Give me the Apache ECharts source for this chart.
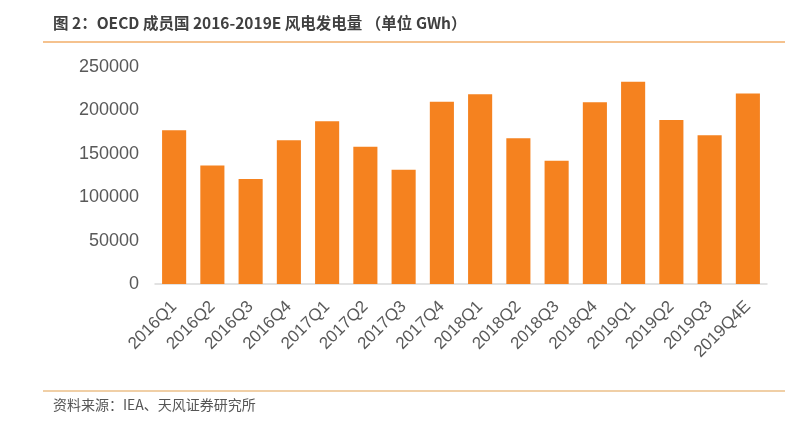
<!DOCTYPE html>
<html>
<head>
<meta charset="utf-8">
<script src="https://cdn.jsdelivr.net/npm/echarts@6/dist/echarts.min.js"></script>
<style>
html,body{margin:0;padding:0;background:#fff;}
#c{width:800px;height:439px;}
</style>
</head>
<body>
<div id="c"></div>
<script>
var titleText = '图 2：OECD 成员国 2016-2019E 风电发电量 （单位 GWh）';
var sourceText = '资料来源：IEA、天风证券研究所';
var categories = ['2016Q1','2016Q2','2016Q3','2016Q4','2017Q1','2017Q2','2017Q3','2017Q4','2018Q1','2018Q2','2018Q3','2018Q4','2019Q1','2019Q2','2019Q3','2019Q4E'];
var values = [177000,136500,121000,165500,187500,158000,131500,210000,218500,168000,142000,209500,233000,189000,171500,219500];

var chart = echarts.init(document.getElementById('c'));
chart.setOption({
  animation: false,
  backgroundColor: '#fff',
  graphic: [
    {type:'text', left:53, top:15, style:{text:titleText, fill:'#404040', font:'bold 15.5px "Noto Sans CJK SC"'}},
    {type:'line', shape:{x1:43,y1:42,x2:785,y2:42}, style:{stroke:'#f5c28e', lineWidth:2}},
    {type:'line', shape:{x1:43,y1:391,x2:785,y2:391}, style:{stroke:'#f0cfa6', lineWidth:2}},
    {type:'text', left:53, top:398, style:{text:sourceText, fill:'#555', font:'14px "Noto Sans CJK SC"'}}
  ],
  grid: {left:155, right:33, top:67, bottom:155, containLabel:false},
  xAxis: {
    type:'category', data:categories,
    axisLine:{lineStyle:{color:'#d9d9d9', width:1.5}},
    axisTick:{show:false},
    axisLabel:{rotate:45, color:'#595959', fontSize:17, fontFamily:'Liberation Sans', interval:0, margin:20}
  },
  yAxis: {
    type:'value', min:0, max:250000, interval:50000,
    axisLine:{show:false}, axisTick:{show:false}, splitLine:{show:false},
    axisLabel:{color:'#595959', fontSize:18, fontFamily:'Liberation Sans', margin:16, formatter:function(v){return String(v);}}
  },
  series: [{
    type:'bar', data:values, barWidth:'63%',
    itemStyle:{color:'#f5821f'}
  }]
});
</script>
</body>
</html>
